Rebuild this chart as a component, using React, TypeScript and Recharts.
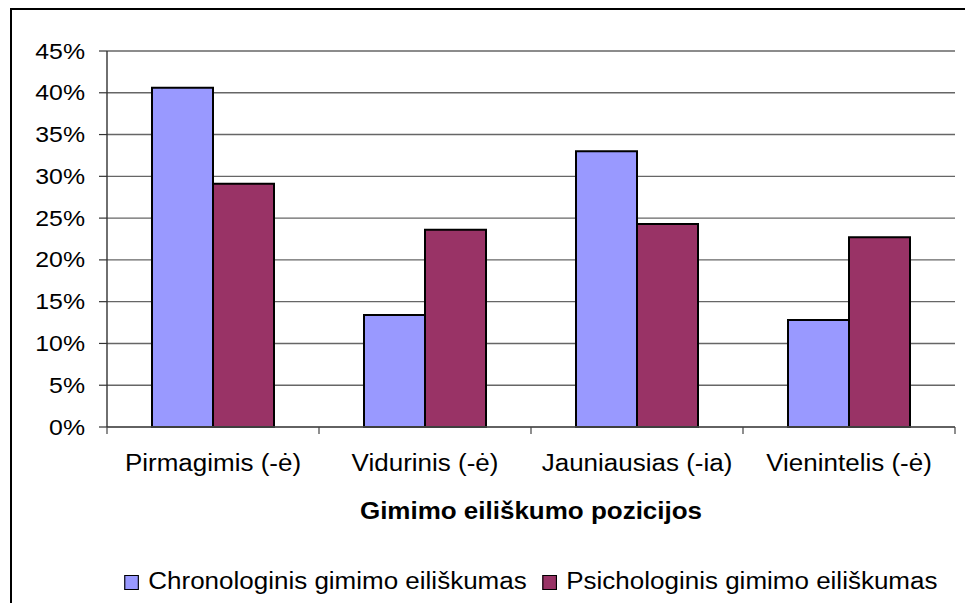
import React from 'react';
import { BarChart, Bar, XAxis, YAxis, CartesianGrid, Legend } from 'recharts';

const categories = ['Pirmagimis (-ė)', 'Vidurinis (-ė)', 'Jauniausias (-ia)', 'Vienintelis (-ė)'];
const chronologinis = [40.6, 13.4, 33.0, 12.8];
const psichologinis = [29.1, 23.6, 24.3, 22.7];
const seriesNames = ['Chronologinis gimimo eiliškumas', 'Psichologinis gimimo eiliškumas'];
const seriesColors = ['#9999FF', '#993366'];
const yTicks = [0, 5, 10, 15, 20, 25, 30, 35, 40, 45];
const axisTitle = 'Gimimo eiliškumo pozicijos';

const data = categories.map((name, i) => ({
  name,
  chron: chronologinis[i],
  psych: psichologinis[i],
}));

const FONT = '"Liberation Sans", Arial, sans-serif';
const SX = 1.13;

const YTick = (props: any) => {
  const { x, y, payload } = props;
  return (
    <g transform={`translate(${x},${y})`}>
      <text transform={`scale(${SX},1)`} textAnchor="end" dy={7.5} fontSize={22} fontFamily={FONT} fill="#000">
        {payload.value}%
      </text>
    </g>
  );
};

const XTick = (props: any) => {
  const { x, y, payload, index, visibleTicksCount } = props;
  const half = payload && typeof payload.offset === 'number' ? payload.offset : 0;
  const isLast = visibleTicksCount != null && index === visibleTicksCount - 1;
  return (
    <g transform={`translate(${x},${y})`}>
      {half > 0 && <line x1={-half} y1={0} x2={-half} y2={7} stroke="#444" strokeWidth={1.2} />}
      {half > 0 && isLast && <line x1={half} y1={0} x2={half} y2={7} stroke="#444" strokeWidth={1.2} />}
      <text transform={`scale(${SX},1)`} textAnchor="middle" dy={44} fontSize={23} fontFamily={FONT} fill="#000">
        {payload.value}
      </text>
    </g>
  );
};

const AxisTitle = (props: any) => {
  const vb = props.viewBox || { x: 0, y: 0, width: 0, height: 0 };
  const cx = vb.x + vb.width / 2;
  const cy = vb.y + 92;
  return (
    <g transform={`translate(${cx},${cy})`}>
      <text transform={`scale(${SX},1)`} textAnchor="middle" fontSize={23} fontWeight="bold" fontFamily={FONT} fill="#000">
        {axisTitle}
      </text>
    </g>
  );
};

const LegendContent = (props: any) => {
  const payload = props.payload || [];
  return (
    <div
      style={{
        display: 'flex',
        justifyContent: 'center',
        alignItems: 'center',
        height: 32,
        transform: `scaleX(${SX})`,
        transformOrigin: 'center center',
        fontFamily: FONT,
        fontSize: 23,
        color: '#000',
        whiteSpace: 'nowrap',
      }}
    >
      {payload.map((entry: any, i: number) => (
        <div key={i} style={{ display: 'flex', alignItems: 'center', marginLeft: i > 0 ? 14 : 0 }}>
          <span
            style={{
              display: 'inline-block',
              width: 11,
              height: 13,
              background: entry.color,
              border: '1px solid #000',
              marginRight: 8,
              marginTop: 3,
            }}
          />
          <span>{entry.value}</span>
        </div>
      ))}
    </div>
  );
};

export default function App() {
  return (
    <div style={{ position: 'fixed', left: 0, top: 0, width: 965, height: 603, overflow: 'hidden', background: '#fff' }}>
      <div
        style={{
          position: 'absolute',
          left: 10,
          top: 8,
          width: 1000,
          height: 700,
          borderTop: '2px solid #000',
          borderLeft: '2px solid #000',
        }}
      />
      <div style={{ position: 'absolute', left: 0, top: 0 }}>
        <BarChart
          width={965}
          height={603}
          data={data}
          margin={{ top: 51, right: 10, left: 0, bottom: 6 }}
          barCategoryGap={45}
          barGap={0}
        >
          <CartesianGrid xAxisId="cat" yAxisId="left" horizontal vertical={false} stroke="#666" strokeWidth={1.4} />
          <XAxis
            xAxisId="cat"
            dataKey="name"
            height={138}
            tickLine={false}
            tickSize={0}
            tickMargin={0}
            axisLine={{ stroke: '#555', strokeWidth: 1.4 }}
            tick={<XTick />}
            interval={0}
            label={<AxisTitle />}
          />
          <YAxis
            yAxisId="left"
            width={107}
            domain={[0, 45]}
            ticks={yTicks}
            tickSize={8}
            tickMargin={14}
            tickLine={{ stroke: '#333', strokeWidth: 1.2 }}
            axisLine={{ stroke: '#333', strokeWidth: 1.4 }}
            tick={<YTick />}
          />
          <YAxis
            yAxisId="right"
            orientation="right"
            width={0}
            domain={[0, 45]}
            ticks={yTicks}
            tick={false}
            tickLine={false}
            axisLine={{ stroke: '#888', strokeWidth: 2 }}
          />
          <Legend
            verticalAlign="bottom"
            align="center"
            height={32}
            wrapperStyle={{ left: 107, width: 848, height: 32 }}
            content={<LegendContent />}
          />
          <Bar
            xAxisId="cat"
            yAxisId="left"
            dataKey="chron"
            name={seriesNames[0]}
            fill={seriesColors[0]}
            stroke="#000"
            strokeWidth={2}
            isAnimationActive={false}
          />
          <Bar
            xAxisId="cat"
            yAxisId="left"
            dataKey="psych"
            name={seriesNames[1]}
            fill={seriesColors[1]}
            stroke="#000"
            strokeWidth={2}
            isAnimationActive={false}
          />
        </BarChart>
      </div>
    </div>
  );
}
